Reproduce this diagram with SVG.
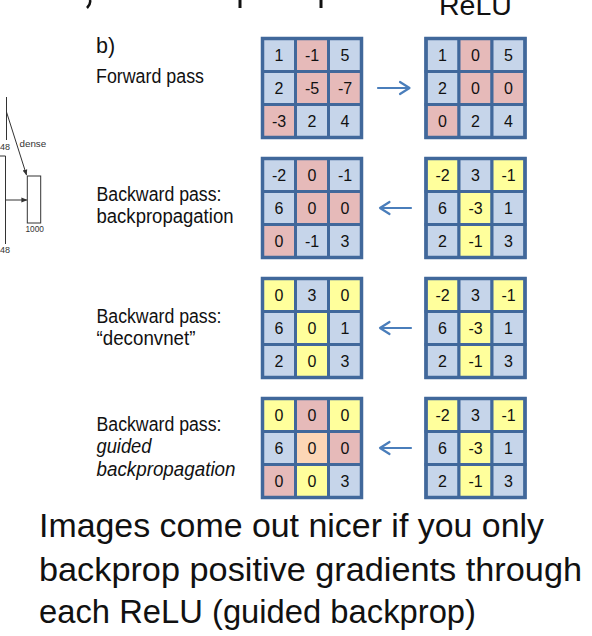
<svg xmlns="http://www.w3.org/2000/svg" width="592" height="636" viewBox="0 0 592 636">
<style>
  text { font-family: "Liberation Sans", Arial, sans-serif; fill: #111; }
  .lbl { font-size: 19.5px; }
  .it { font-style: italic; }
  .big { font-size: 33.5px; }
  .num { font-size: 16px; text-anchor: middle; }
  .b { fill: #c6d5ea; }
  .p { fill: #e6bab9; }
  .y { fill: #ffff9c; }
  .o { fill: #fcd6b6; }
  .cell { stroke: #41689b; stroke-width: 3; }
  .frame { fill: none; stroke: #41689b; stroke-width: 3.5; }
  .arr { fill: none; stroke: #4a7ebb; stroke-width: 2.2; stroke-linecap: round; stroke-linejoin: round; }
  .nn { fill: none; stroke: #333; stroke-width: 1; }
  .small { font-size: 9px; fill: #333; }
</style>
<defs>
  <marker id="ah" viewBox="0 0 10 10" refX="9" refY="5" markerWidth="6" markerHeight="6" orient="auto">
    <path d="M0,1 L10,5 L0,9 z" fill="#333"/>
  </marker>
</defs>
<rect width="592" height="636" fill="#fff"/>

<!-- cut-off heading fragments -->
<g id="heading-fragments">
  <path d="M90,0 Q91,4 87,8" fill="none" stroke="#111" stroke-width="2.5"/>
  <path d="M240,0 L240,8" fill="none" stroke="#111" stroke-width="3"/>
  <path d="M321,0 L321,8" fill="none" stroke="#111" stroke-width="3"/>
  <text x="439" y="15" style="font-size:28.5px">ReLU</text>
</g>

<!-- partial network diagram at left -->
<g id="net-left">
  <path class="nn" d="M6.5,97 L6.5,140"/>
  <text class="small" x="0" y="150">48</text>
  <path class="nn" d="M0,156 L5.5,156 L5.5,244"/>
  <text class="small" x="0" y="253">48</text>
  <rect class="nn" x="27.3" y="176" width="13.4" height="47"/>
  <text class="small" x="25.5" y="231.5" style="font-size:8.3px">1000</text>
  <text class="small" x="19.5" y="146.5" style="font-size:9.8px">dense</text>
</g>
<g id="net-connectors">
  <path class="nn" d="M6.5,112 L26.5,175" marker-end="url(#ah)"/>
  <path class="nn" d="M5.5,200 L26.8,200" marker-end="url(#ah)"/>
</g>

<!-- labels -->
<g id="labels">
  <text x="96" y="53" style="font-size:21.5px">b)</text>
  <text class="lbl" x="96" y="83" textLength="108" lengthAdjust="spacingAndGlyphs">Forward pass</text>
  <text class="lbl" x="96.5" y="201" textLength="125" lengthAdjust="spacingAndGlyphs">Backward pass:</text>
  <text class="lbl" x="96.5" y="223" textLength="137" lengthAdjust="spacingAndGlyphs">backpropagation</text>
  <text class="lbl" x="96.5" y="323" textLength="125" lengthAdjust="spacingAndGlyphs">Backward pass:</text>
  <text class="lbl" x="96.5" y="345" textLength="99" lengthAdjust="spacingAndGlyphs">“deconvnet”</text>
  <text class="lbl" x="96.5" y="431" textLength="125" lengthAdjust="spacingAndGlyphs">Backward pass:</text>
  <text class="lbl it" x="96.5" y="453" textLength="55" lengthAdjust="spacingAndGlyphs">guided</text>
  <text class="lbl it" x="96.5" y="476" textLength="139" lengthAdjust="spacingAndGlyphs">backpropagation</text>
</g>

<!-- grid 1 left: input -->
<g id="g1-in" transform="translate(262.5,38.5)">
  <rect class="cell b" x="0" y="0" width="33" height="33"/><rect class="cell p" x="33" y="0" width="33" height="33"/><rect class="cell b" x="66" y="0" width="33" height="33"/>
  <rect class="cell b" x="0" y="33" width="33" height="33"/><rect class="cell p" x="33" y="33" width="33" height="33"/><rect class="cell p" x="66" y="33" width="33" height="33"/>
  <rect class="cell p" x="0" y="66" width="33" height="33"/><rect class="cell b" x="33" y="66" width="33" height="33"/><rect class="cell b" x="66" y="66" width="33" height="33"/>
  <rect class="frame" x="0" y="0" width="99" height="99"/>
  <text class="num" x="16.5" y="22.5">1</text><text class="num" x="49.5" y="22.5">-1</text><text class="num" x="82.5" y="22.5">5</text>
  <text class="num" x="16.5" y="55.5">2</text><text class="num" x="49.5" y="55.5">-5</text><text class="num" x="82.5" y="55.5">-7</text>
  <text class="num" x="16.5" y="88.5">-3</text><text class="num" x="49.5" y="88.5">2</text><text class="num" x="82.5" y="88.5">4</text>
</g>
<!-- grid 1 right: ReLU output -->
<g id="g1-out" transform="translate(426,38.5)">
  <rect class="cell b" x="0" y="0" width="33" height="33"/><rect class="cell p" x="33" y="0" width="33" height="33"/><rect class="cell b" x="66" y="0" width="33" height="33"/>
  <rect class="cell b" x="0" y="33" width="33" height="33"/><rect class="cell p" x="33" y="33" width="33" height="33"/><rect class="cell p" x="66" y="33" width="33" height="33"/>
  <rect class="cell p" x="0" y="66" width="33" height="33"/><rect class="cell b" x="33" y="66" width="33" height="33"/><rect class="cell b" x="66" y="66" width="33" height="33"/>
  <rect class="frame" x="0" y="0" width="99" height="99"/>
  <text class="num" x="16.5" y="22.5">1</text><text class="num" x="49.5" y="22.5">0</text><text class="num" x="82.5" y="22.5">5</text>
  <text class="num" x="16.5" y="55.5">2</text><text class="num" x="49.5" y="55.5">0</text><text class="num" x="82.5" y="55.5">0</text>
  <text class="num" x="16.5" y="88.5">0</text><text class="num" x="49.5" y="88.5">2</text><text class="num" x="82.5" y="88.5">4</text>
</g>

<!-- grid 2 left: backprop result -->
<g id="g2-in" transform="translate(262.5,158.5)">
  <rect class="cell b" x="0" y="0" width="33" height="33"/><rect class="cell p" x="33" y="0" width="33" height="33"/><rect class="cell b" x="66" y="0" width="33" height="33"/>
  <rect class="cell b" x="0" y="33" width="33" height="33"/><rect class="cell p" x="33" y="33" width="33" height="33"/><rect class="cell p" x="66" y="33" width="33" height="33"/>
  <rect class="cell p" x="0" y="66" width="33" height="33"/><rect class="cell b" x="33" y="66" width="33" height="33"/><rect class="cell b" x="66" y="66" width="33" height="33"/>
  <rect class="frame" x="0" y="0" width="99" height="99"/>
  <text class="num" x="16.5" y="22.5">-2</text><text class="num" x="49.5" y="22.5">0</text><text class="num" x="82.5" y="22.5">-1</text>
  <text class="num" x="16.5" y="55.5">6</text><text class="num" x="49.5" y="55.5">0</text><text class="num" x="82.5" y="55.5">0</text>
  <text class="num" x="16.5" y="88.5">0</text><text class="num" x="49.5" y="88.5">-1</text><text class="num" x="82.5" y="88.5">3</text>
</g>
<!-- grid 2 right: upstream gradient -->
<g id="g2-out" transform="translate(426,158.5)">
  <rect class="cell y" x="0" y="0" width="33" height="33"/><rect class="cell b" x="33" y="0" width="33" height="33"/><rect class="cell y" x="66" y="0" width="33" height="33"/>
  <rect class="cell b" x="0" y="33" width="33" height="33"/><rect class="cell y" x="33" y="33" width="33" height="33"/><rect class="cell b" x="66" y="33" width="33" height="33"/>
  <rect class="cell b" x="0" y="66" width="33" height="33"/><rect class="cell y" x="33" y="66" width="33" height="33"/><rect class="cell b" x="66" y="66" width="33" height="33"/>
  <rect class="frame" x="0" y="0" width="99" height="99"/>
  <text class="num" x="16.5" y="22.5">-2</text><text class="num" x="49.5" y="22.5">3</text><text class="num" x="82.5" y="22.5">-1</text>
  <text class="num" x="16.5" y="55.5">6</text><text class="num" x="49.5" y="55.5">-3</text><text class="num" x="82.5" y="55.5">1</text>
  <text class="num" x="16.5" y="88.5">2</text><text class="num" x="49.5" y="88.5">-1</text><text class="num" x="82.5" y="88.5">3</text>
</g>

<!-- grid 3 left: deconvnet result -->
<g id="g3-in" transform="translate(262.5,278.5)">
  <rect class="cell y" x="0" y="0" width="33" height="33"/><rect class="cell b" x="33" y="0" width="33" height="33"/><rect class="cell y" x="66" y="0" width="33" height="33"/>
  <rect class="cell b" x="0" y="33" width="33" height="33"/><rect class="cell y" x="33" y="33" width="33" height="33"/><rect class="cell b" x="66" y="33" width="33" height="33"/>
  <rect class="cell b" x="0" y="66" width="33" height="33"/><rect class="cell y" x="33" y="66" width="33" height="33"/><rect class="cell b" x="66" y="66" width="33" height="33"/>
  <rect class="frame" x="0" y="0" width="99" height="99"/>
  <text class="num" x="16.5" y="22.5">0</text><text class="num" x="49.5" y="22.5">3</text><text class="num" x="82.5" y="22.5">0</text>
  <text class="num" x="16.5" y="55.5">6</text><text class="num" x="49.5" y="55.5">0</text><text class="num" x="82.5" y="55.5">1</text>
  <text class="num" x="16.5" y="88.5">2</text><text class="num" x="49.5" y="88.5">0</text><text class="num" x="82.5" y="88.5">3</text>
</g>
<!-- grid 3 right -->
<g id="g3-out" transform="translate(426,278.5)">
  <rect class="cell y" x="0" y="0" width="33" height="33"/><rect class="cell b" x="33" y="0" width="33" height="33"/><rect class="cell y" x="66" y="0" width="33" height="33"/>
  <rect class="cell b" x="0" y="33" width="33" height="33"/><rect class="cell y" x="33" y="33" width="33" height="33"/><rect class="cell b" x="66" y="33" width="33" height="33"/>
  <rect class="cell b" x="0" y="66" width="33" height="33"/><rect class="cell y" x="33" y="66" width="33" height="33"/><rect class="cell b" x="66" y="66" width="33" height="33"/>
  <rect class="frame" x="0" y="0" width="99" height="99"/>
  <text class="num" x="16.5" y="22.5">-2</text><text class="num" x="49.5" y="22.5">3</text><text class="num" x="82.5" y="22.5">-1</text>
  <text class="num" x="16.5" y="55.5">6</text><text class="num" x="49.5" y="55.5">-3</text><text class="num" x="82.5" y="55.5">1</text>
  <text class="num" x="16.5" y="88.5">2</text><text class="num" x="49.5" y="88.5">-1</text><text class="num" x="82.5" y="88.5">3</text>
</g>

<!-- grid 4 left: guided backprop result -->
<g id="g4-in" transform="translate(262.5,398.5)">
  <rect class="cell y" x="0" y="0" width="33" height="33"/><rect class="cell p" x="33" y="0" width="33" height="33"/><rect class="cell y" x="66" y="0" width="33" height="33"/>
  <rect class="cell b" x="0" y="33" width="33" height="33"/><rect class="cell o" x="33" y="33" width="33" height="33"/><rect class="cell p" x="66" y="33" width="33" height="33"/>
  <rect class="cell p" x="0" y="66" width="33" height="33"/><rect class="cell y" x="33" y="66" width="33" height="33"/><rect class="cell b" x="66" y="66" width="33" height="33"/>
  <rect class="frame" x="0" y="0" width="99" height="99"/>
  <text class="num" x="16.5" y="22.5">0</text><text class="num" x="49.5" y="22.5">0</text><text class="num" x="82.5" y="22.5">0</text>
  <text class="num" x="16.5" y="55.5">6</text><text class="num" x="49.5" y="55.5">0</text><text class="num" x="82.5" y="55.5">0</text>
  <text class="num" x="16.5" y="88.5">0</text><text class="num" x="49.5" y="88.5">0</text><text class="num" x="82.5" y="88.5">3</text>
</g>
<!-- grid 4 right -->
<g id="g4-out" transform="translate(426,398.5)">
  <rect class="cell y" x="0" y="0" width="33" height="33"/><rect class="cell b" x="33" y="0" width="33" height="33"/><rect class="cell y" x="66" y="0" width="33" height="33"/>
  <rect class="cell b" x="0" y="33" width="33" height="33"/><rect class="cell y" x="33" y="33" width="33" height="33"/><rect class="cell b" x="66" y="33" width="33" height="33"/>
  <rect class="cell b" x="0" y="66" width="33" height="33"/><rect class="cell y" x="33" y="66" width="33" height="33"/><rect class="cell b" x="66" y="66" width="33" height="33"/>
  <rect class="frame" x="0" y="0" width="99" height="99"/>
  <text class="num" x="16.5" y="22.5">-2</text><text class="num" x="49.5" y="22.5">3</text><text class="num" x="82.5" y="22.5">-1</text>
  <text class="num" x="16.5" y="55.5">6</text><text class="num" x="49.5" y="55.5">-3</text><text class="num" x="82.5" y="55.5">1</text>
  <text class="num" x="16.5" y="88.5">2</text><text class="num" x="49.5" y="88.5">-1</text><text class="num" x="82.5" y="88.5">3</text>
</g>

<!-- connectors -->
<g id="connectors">
  <path class="arr" d="M378,88 L409,88 M400,82 L409.5,88 L400,94"/>
  <path class="arr" d="M411,208 L380,208 M389.5,202 L380,208 L389.5,214"/>
  <path class="arr" d="M411,328 L380,328 M389.5,322 L380,328 L389.5,334"/>
  <path class="arr" d="M411,448 L380,448 M389.5,442 L380,448 L389.5,454"/>
</g>

<!-- caption -->
<g id="caption">
  <text class="big" x="39" y="537" textLength="505" lengthAdjust="spacingAndGlyphs">Images come out nicer if you only</text>
  <text class="big" x="39" y="581" textLength="543" lengthAdjust="spacingAndGlyphs">backprop positive gradients through</text>
  <text class="big" x="39" y="623" textLength="437" lengthAdjust="spacingAndGlyphs">each ReLU (guided backprop)</text>
</g>
</svg>
